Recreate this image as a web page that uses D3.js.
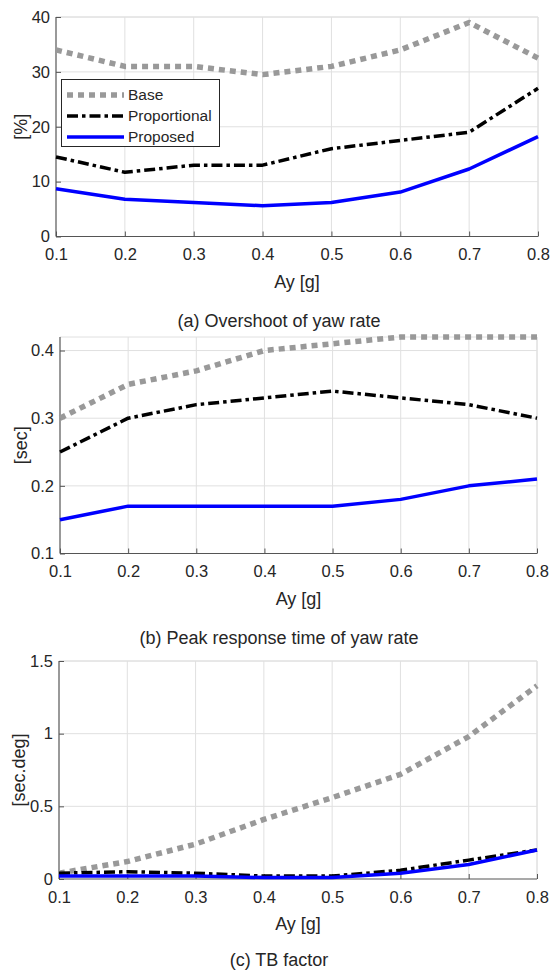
<!DOCTYPE html>
<html>
<head>
<meta charset="utf-8">
<script src="https://cdn.jsdelivr.net/npm/d3@7"></script>
<style>
  html, body { margin: 0; padding: 0; background: #fff; }
  svg { display: block; }
  text { font-family: "Liberation Sans", Arial, Helvetica, sans-serif; fill: #262626; }
</style>
</head>
<body>
<svg id="chart" width="551" height="970"></svg>
<script>
// ---- data ----
const ay = [0.1, 0.2, 0.3, 0.4, 0.5, 0.6, 0.7, 0.8];
const xTicks = [0.1, 0.2, 0.3, 0.4, 0.5, 0.6, 0.7, 0.8];
const seriesNames = ["Base", "Proportional", "Proposed"];

const overshootBase = [34, 31, 31, 29.5, 31, 34, 39, 32.5];
const overshootProp = [14.5, 11.7, 13, 13, 16, 17.5, 19, 27];
const overshootNew  = [8.7, 6.8, 6.2, 5.6, 6.2, 8.1, 12.3, 18.2];
const overshootTicks = [0, 10, 20, 30, 40];

const peakBase = [0.30, 0.35, 0.37, 0.40, 0.41, 0.42, 0.42, 0.42];
const peakProp = [0.25, 0.30, 0.32, 0.33, 0.34, 0.33, 0.32, 0.30];
const peakNew  = [0.15, 0.17, 0.17, 0.17, 0.17, 0.18, 0.20, 0.21];
const peakTicks = [0.1, 0.2, 0.3, 0.4];

const tbBase = [0.04, 0.12, 0.24, 0.41, 0.56, 0.72, 0.98, 1.33];
const tbProp = [0.04, 0.05, 0.04, 0.02, 0.02, 0.06, 0.13, 0.20];
const tbNew  = [0.02, 0.02, 0.02, 0.01, 0.01, 0.04, 0.10, 0.20];
const tbTicks = [0, 0.5, 1, 1.5];

const titles = ["(a) Overshoot of yaw rate", "(b) Peak response time of yaw rate", "(c) TB factor"];
const yLabels = ["[%]", "[sec]", "[sec.deg]"];
const xLabel = "Ay [g]";

// ---- styles ----
const styles = [
  { color: "#999999", width: 5.5, dash: "6,5" },
  { color: "#000000", width: 3.5, dash: "11,4,3.5,4" },
  { color: "#0000ff", width: 3.5, dash: null }
];

const panels = [
  { series: [overshootBase, overshootProp, overshootNew], yDomain: [0, 40], yTicks: overshootTicks,
    fmt: d => d3.format("d")(d), box: { l: 56, r: 538, t: 17, b: 236.5 }, legend: true,
    yLabelX: 21, title: titles[0], yLabel: yLabels[0] },
  { series: [peakBase, peakProp, peakNew], yDomain: [0.1, 0.42], yTicks: peakTicks,
    fmt: d => d3.format(".1f")(d), box: { l: 60, r: 537, t: 337, b: 553.5 }, legend: false,
    yLabelX: 21, title: titles[1], yLabel: yLabels[1] },
  { series: [tbBase, tbProp, tbNew], yDomain: [0, 1.5], yTicks: tbTicks,
    fmt: d => String(d), box: { l: 59, r: 537, t: 661, b: 879 }, legend: false,
    yLabelX: 19, title: titles[2], yLabel: yLabels[2] }
];

const svg = d3.select("#chart");
const FONT = '"Liberation Sans", Arial, sans-serif';

panels.forEach(p => {
  const b = p.box;
  const x = d3.scaleLinear().domain([0.1, 0.8]).range([b.l, b.r]);
  const y = d3.scaleLinear().domain(p.yDomain).range([b.b, b.t]);
  const g = svg.append("g");

  // grid
  g.append("g").selectAll("line").data(xTicks.slice(1)).join("line")
    .attr("x1", d => x(d)).attr("x2", d => x(d)).attr("y1", b.t).attr("y2", b.b)
    .attr("stroke", "#e0e0e0").attr("stroke-width", 1);
  g.append("g").selectAll("line").data(p.yTicks.filter(t => y(t) < b.b - 1)).join("line")
    .attr("x1", b.l).attr("x2", b.r).attr("y1", d => y(d)).attr("y2", d => y(d))
    .attr("stroke", "#e0e0e0").attr("stroke-width", 1);
  // top / right border (light)
  g.append("line").attr("x1", b.l).attr("x2", b.r).attr("y1", b.t).attr("y2", b.t)
    .attr("stroke", "#e0e0e0");
  g.append("line").attr("x1", b.r).attr("x2", b.r).attr("y1", b.t).attr("y2", b.b)
    .attr("stroke", "#e0e0e0");

  // axes
  const xAxis = d3.axisBottom(x).tickValues(xTicks).tickSize(-5).tickPadding(10)
    .tickFormat(d3.format(".1f"));
  const xg = g.append("g").attr("transform", `translate(0,${b.b})`).call(xAxis);
  const yAxis = d3.axisLeft(y).tickValues(p.yTicks).tickSize(-5).tickPadding(10)
    .tickFormat(p.fmt);
  const yg = g.append("g").attr("transform", `translate(${b.l},0)`).call(yAxis);
  [xg, yg].forEach(a => {
    a.select(".domain").attr("stroke", "#555").attr("stroke-width", 1.2);
    a.selectAll(".tick line").attr("stroke", "#555").attr("stroke-width", 1);
    a.selectAll(".tick text").attr("font-size", 16.5).attr("fill", "#262626")
      .attr("font-family", FONT);
  });
  xg.select(".domain").attr("d", `M${b.l},0H${b.r}`);
  yg.select(".domain").attr("d", `M0,${b.b}V${b.t}`);
  xg.selectAll(".tick text").attr("dy", "0.71em").attr("y", 12);
  yg.selectAll(".tick text").attr("x", -6);

  // lines
  const line = d3.line().x((d, i) => x(ay[i])).y(d => y(d));
  p.series.forEach((s, k) => {
    const st = styles[k];
    g.append("path").datum(s).attr("d", line)
      .attr("fill", "none").attr("stroke", st.color).attr("stroke-width", st.width)
      .attr("stroke-dasharray", st.dash).attr("stroke-linejoin", "round");
  });

  // x label
  g.append("text").attr("x", (b.l + b.r) / 2).attr("y", b.b + 51)
    .attr("text-anchor", "middle").attr("font-size", 18).text(xLabel);
  // y label
  g.append("text").attr("transform", `translate(${p.yLabelX},${(b.t + b.b) / 2}) rotate(-90)`)
    .attr("text-anchor", "middle").attr("dy", "0.35em").attr("font-size", 18).text(p.yLabel);
  // caption
  g.append("text").attr("x", 279).attr("y", Math.min(b.b + 90.5, 965.5))
    .attr("text-anchor", "middle").attr("font-size", 18).attr("fill", "#000").text(p.title);

  if (p.legend) {
    const lg = g.append("g");
    lg.append("rect").attr("x", 61.5).attr("y", 79.5).attr("width", 158).attr("height", 67)
      .attr("fill", "#fff").attr("stroke", "#262626").attr("stroke-width", 1);
    seriesNames.forEach((name, k) => {
      const st = styles[k];
      const yy = 95 + k * 21;
      lg.append("line").attr("x1", 67).attr("x2", 124).attr("y1", yy).attr("y2", yy)
        .attr("stroke", st.color).attr("stroke-width", st.width).attr("stroke-dasharray", st.dash);
      lg.append("text").attr("x", 128).attr("y", yy).attr("dy", "0.35em")
        .attr("font-size", 15.5).text(name);
    });
  }
});
</script>
</body>
</html>
